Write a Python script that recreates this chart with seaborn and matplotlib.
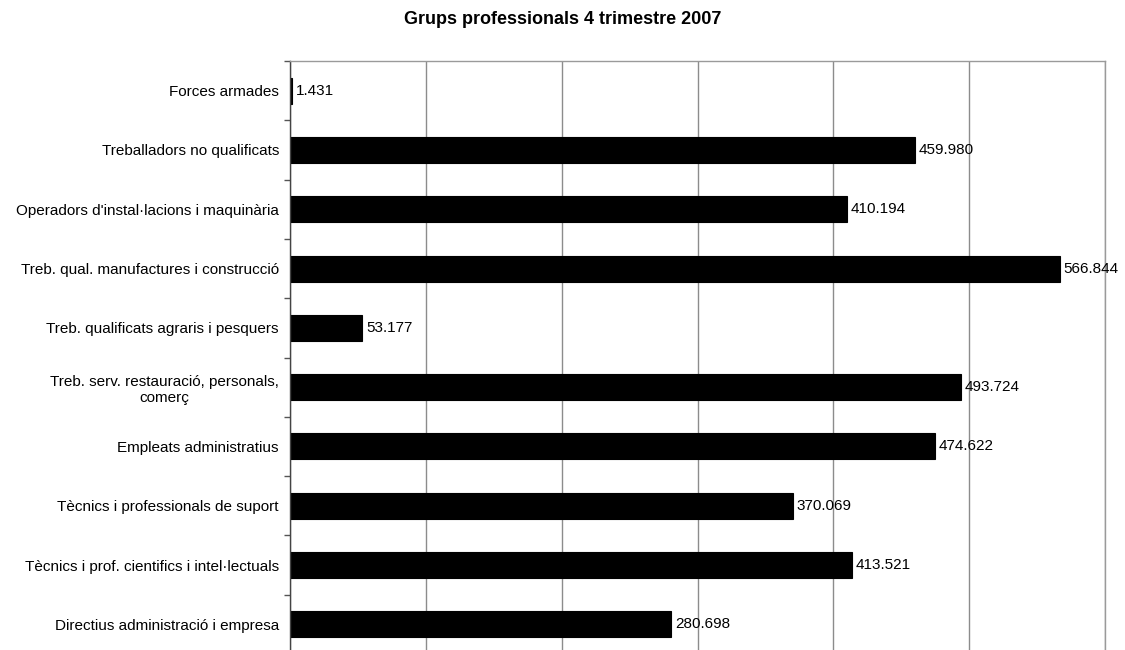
import numpy as np
import pandas as pd
import matplotlib
matplotlib.use('Agg')
import matplotlib.pyplot as plt
import seaborn as sns

# dades llegides del gràfic
grups = ['Forces armades',
         'Treballadors no qualificats',
         "Operadors d'instal·lacions i maquinària",
         'Treb. qual. manufactures i construcció',
         'Treb. qualificats agraris i pesquers',
         'Treb. serv. restauració, personals,\ncomerç',
         'Empleats administratius',
         'Tècnics i professionals de suport',
         'Tècnics i prof. cientifics i intel·lectuals',
         'Directius administració i empresa']
valors = [1431, 459980, 410194, 566844, 53177, 493724, 474622, 370069, 413521, 280698]

df = pd.DataFrame({'grup': grups, 'valor': valors})

sns.set_style('white')
plt.rcParams['font.family'] = ['Liberation Sans', 'DejaVu Sans']
plt.rcParams['text.color'] = 'black'
plt.rcParams['ytick.color'] = 'black'
plt.rcParams['ytick.labelcolor'] = 'black'

fig = plt.figure(figsize=(11.25, 6.5), dpi=100)
ax = fig.add_axes([290 / 1125, -4 / 650, 815 / 1125, 593 / 650])

sns.barplot(data=df, x='valor', y='grup', orient='h', color='black',
            edgecolor='black', linewidth=0.8, width=0.44, saturation=1, ax=ax)

ax.set_xlim(0, 600000)
ax.set_xticks(np.arange(0, 600001, 100000))
ax.xaxis.grid(True, color='#8c8c8c', linewidth=1)
ax.set_axisbelow(True)
ax.tick_params(axis='x', length=0, labelbottom=False)
ax.set_xlabel('')
ax.set_ylabel('')

# marques de l'eix Y entre categories
ax.tick_params(axis='y', which='major', length=0, labelsize=11, pad=8)
ax.set_yticks(np.arange(-0.5, len(grups), 1), minor=True)
ax.tick_params(axis='y', which='minor', left=True, length=4, width=1,
               color='#555555', direction='out')

for lab in ax.get_yticklabels():
    lab.set_multialignment('center')

for s in ['top', 'right', 'bottom']:
    ax.spines[s].set_color('#9a9a9a')
    ax.spines[s].set_linewidth(1)
ax.spines['left'].set_color('#444444')
ax.spines['left'].set_linewidth(1)

# etiquetes de valor amb punt de milers
for i, v in enumerate(valors):
    ax.text(v + 2800, i, f'{v:,}'.replace(',', '.'), va='center', ha='left', fontsize=11)

fig.text(0.5, 1 - 19 / 650, 'Grups professionals 4 trimestre 2007', ha='center', va='center',
         fontsize=13, fontweight='bold')

fig.savefig('out.png', dpi=100)
